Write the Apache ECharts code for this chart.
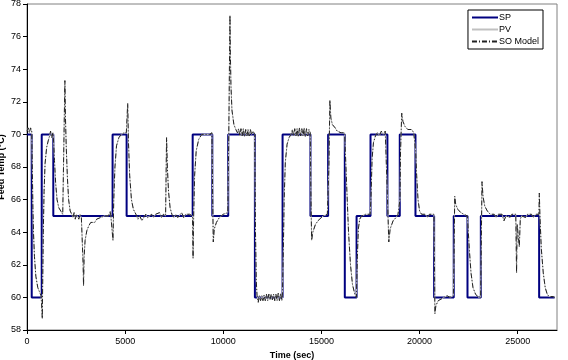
<!DOCTYPE html>
<html>
<head>
<meta charset="UTF-8">
<title>Feed Temp</title>
<script src="https://cdn.jsdelivr.net/npm/echarts@6/dist/echarts.min.js"></script>
<style>
  html, body { margin: 0; padding: 0; background: #fff; }
  #chart { width: 568px; height: 360px; }
</style>
</head>
<body>
<div id="chart"></div>
<script>
// set point steps (time in sec, level in degC)
var spTime = [0, 240, 750, 1340, 4360, 5075, 8440, 9440, 10250, 11610, 13020, 14440, 15340,
  16190, 16790, 17500, 18360, 18990, 19790, 20740, 21740, 22440, 23120, 26090, 26880];
var spValue = [70, 60, 70, 65, 70, 65, 70, 65, 70, 60, 70, 65, 70,
  60, 65, 70, 65, 70, 65, 60, 65, 60, 65, 60, 60];

// measured response [time, temp]
var pv = [
  [0,70.2],[60,70.4],[120,70.1],[180,70.4],[240,70.2],
  [270,68],[300,65.5],[330,64],[380,62.5],[450,61.3],[550,60.6],[650,60.3],[720,60.1],[750,60.0],
  [780,58.7],[800,61],[830,64],[870,66.5],[920,68.2],[1000,69.2],[1080,69.6],[1150,69.9],[1200,70.2],[1260,69.8],[1320,70.1],
  [1360,69.5],[1400,68.4],[1460,67],[1530,66],[1620,65.5],[1720,65.3],[1820,65.1],[1900,65.2],
  [1930,73.3],[1960,71],[2000,69.2],[2060,67.3],[2120,66],[2200,65.3],[2280,65.1],[2340,64.9],[2400,65.2],[2460,64.8],[2520,65.1],[2580,65],[2640,64.8],[2700,65.1],[2770,64.9],[2830,65],
  [2860,62],[2880,60.7],[2910,62.5],[2960,63.5],[3050,64.1],[3150,64.4],[3250,64.6],[3350,64.7],[3450,64.6],[3550,64.8],[3650,64.7],[3750,64.9],[3850,64.9],[3950,65],[4050,65.1],[4150,65],[4250,65.3],[4330,65.2],
  [4380,63.5],[4420,66],[4480,68],[4560,69.3],[4680,69.8],[4800,70],[4950,70.1],[5060,70.1],
  [5130,71.9],[5170,69.5],[5230,67.5],[5320,66],[5420,65.4],[5550,65.1],[5650,64.8],[5750,65],[5850,64.7],[5950,64.9],[6050,65.1],[6150,64.9],[6250,65],[6350,65.1],[6450,64.9],[6550,65.1],[6650,65],[6750,65.2],[6850,64.9],[6950,65.1],[7060,65],
  [7110,69.8],[7150,68],[7210,66.5],[7290,65.5],[7380,65.1],[7480,64.9],[7580,65.1],[7680,64.9],[7780,65],[7880,65.2],[7980,64.9],[8080,65.1],[8180,65],[8280,65.1],[8380,65],[8430,65],
  [8460,62.4],[8490,65],[8540,67.5],[8620,69],[8750,69.7],[8900,70],[9000,70.1],[9100,70],[9200,70.1],[9300,70],[9420,70.1],
  [9460,66],[9490,63.4],[9540,64.2],[9650,64.6],[9800,64.9],[9900,65],[10000,65.1],[10100,65.2],[10230,65.2],
  [10280,70],[10320,75],[10340,77.3],[10360,75],[10390,73],[10440,71.5],[10540,70.6],[10640,70.3],[10720,70.1],[10780,70.35],[10840,69.9],[10900,70.35],[10960,69.9],[11020,70.35],[11080,69.85],[11140,70.3],[11200,69.9],[11260,70.3],[11320,69.9],[11380,70.3],[11440,70],[11520,70.2],[11600,70],
  [11640,64],[11680,61],[11720,60.1],[11780,59.7],[11840,60.1],[11900,59.8],[11960,60.1],[12020,59.8],[12080,60.15],[12140,59.8],[12200,60.2],[12260,59.8],[12320,60.2],[12380,59.85],[12440,60.2],[12500,59.85],[12560,60.2],[12620,59.8],[12680,60.2],[12740,59.8],[12800,60.25],[12860,59.8],[12920,60.25],[12980,59.8],[13010,60.1],
  [13030,60],[13060,63],[13100,66],[13160,68.3],[13250,69.4],[13350,69.8],[13450,70],[13520,70.3],[13580,69.9],[13640,70.35],[13700,69.9],[13760,70.35],[13820,69.85],[13880,70.4],[13940,69.9],[14000,70.35],[14060,69.9],[14120,70.4],[14180,69.85],[14240,70.35],[14300,69.9],[14360,70.3],[14430,70.1],
  [14460,66.5],[14500,63.5],[14560,64],[14700,64.5],[14900,64.8],[15100,65],[15300,65.1],
  [15350,65],[15380,68],[15430,72.1],[15480,71],[15560,70.6],[15700,70.4],[15800,70.2],[15900,70.3],[16000,70.1],[16100,70.2],[16180,70.1],
  [16200,69.5],[16280,67],[16380,64],[16480,62],[16580,60.8],[16700,60.2],[16780,60],
  [16800,60],[16830,62.5],[16880,64.2],[16950,64.8],[17050,65],[17150,64.9],[17250,65.1],[17350,65],[17480,65.1],
  [17520,66],[17580,68.5],[17650,69.5],[17750,69.9],[17850,70.1],[17950,69.9],[18050,70.2],[18150,70],[18250,70.2],[18340,70.1],
  [18380,65.5],[18430,63.4],[18500,64.2],[18650,64.7],[18800,64.9],[18900,65.1],[18980,65.2],
  [19000,66],[19030,69],[19090,71.3],[19150,70.8],[19250,70.5],[19400,70.3],[19500,70.2],[19600,70.3],[19700,70.1],[19780,70.2],
  [19800,69],[19850,67.5],[19920,66],[20000,65.3],[20100,65.1],[20200,65],[20300,65.1],[20400,64.9],[20500,65.1],[20600,65],[20730,65.1],
  [20760,62],[20780,59],[20830,59.5],[20950,59.8],[21100,59.9],[21250,60],[21400,60.1],[21550,60],[21720,60.1],
  [21750,62],[21790,66.2],[21840,65.7],[21950,65.4],[22100,65.2],[22250,65.1],[22430,65],
  [22460,64.5],[22530,63],[22620,61.5],[22720,60.6],[22850,60.2],[23000,60],[23110,60],
  [23130,62],[23180,67.1],[23230,66.2],[23320,65.6],[23450,65.3],[23600,65.1],[23700,65],[23800,65.1],[23900,64.9],[24000,65.1],[24100,65],[24200,65.1],[24300,64.7],[24400,65],[24500,65.1],[24600,64.9],[24700,65.1],[24800,65],[24900,65.1],
  [24940,61.5],[24970,64.5],[25020,64.6],[25080,63.1],[25130,64.8],[25200,65],[25300,65.1],[25400,64.9],[25500,65.1],[25600,65],[25700,65.1],[25800,64.9],[25900,65.1],[26000,65],[26080,65.1],
  [26100,66.4],[26130,65],[26200,63],[26300,61.5],[26400,60.6],[26500,60.2],[26600,60.05],[26700,59.95],[26800,60.05],[26880,60]
];

// model output follows the measured curve closely
var model = pv;

var yTicks = [58, 78, 2];
var xTicks = [0, 27000, 5000];

var sp = [];
for (var i = 0; i < spTime.length; i++) {
  sp.push([spTime[i], spValue[i]]);
}

var myChart = echarts.init(document.getElementById('chart'));
var font = 'Arial, "Liberation Sans", sans-serif';

myChart.setOption({
  animation: false,
  grid: {
    left: 27, right: 11, top: 4, bottom: 30,
    outerBoundsMode: 'none', containLabel: false,
    show: true, borderColor: '#808080', borderWidth: 1
  },
  legend: {
    orient: 'vertical',
    right: 25, top: 10,
    backgroundColor: '#fff',
    borderColor: '#000', borderWidth: 1,
    padding: [3, 4, 3, 3],
    itemWidth: 26, itemHeight: 10, itemGap: 3,
    itemStyle: { opacity: 0 },
    textStyle: { fontFamily: font, fontSize: 9, color: '#000', padding: [0, 0, 0, -4] },
    data: ['SP', 'PV', 'SO Model']
  },
  xAxis: {
    type: 'value',
    min: xTicks[0], max: xTicks[1], interval: xTicks[2],
    name: 'Time (sec)',
    nameLocation: 'middle', nameGap: 20,
    nameTextStyle: { fontFamily: font, fontSize: 9, fontWeight: 'bold', color: '#000' },
    axisLine: { lineStyle: { color: '#000' } },
    axisTick: { length: 4, lineStyle: { color: '#000' } },
    axisLabel: {
      fontFamily: font, fontSize: 9, color: '#000', margin: 7,
      showMaxLabel: false,
      formatter: function (v) { return String(v); }
    },
    splitLine: { show: false }
  },
  yAxis: {
    type: 'value',
    min: yTicks[0], max: yTicks[1], interval: yTicks[2],
    name: 'Feed Temp (°C)',
    nameLocation: 'middle', nameGap: 21, nameMoveOverlap: false,
    nameTextStyle: { fontFamily: font, fontSize: 9, fontWeight: 'bold', color: '#000' },
    axisLine: { show: true, lineStyle: { color: '#000' } },
    axisTick: { show: true, length: 4, lineStyle: { color: '#000' } },
    axisLabel: { fontFamily: font, fontSize: 9, color: '#000', margin: 6 },
    splitLine: { show: false }
  },
  series: [
    {
      name: 'SP', type: 'line', step: 'end',
      data: sp, symbol: 'none',
      lineStyle: { color: '#000080', width: 2 },
      itemStyle: { color: '#000080' }
    },
    {
      name: 'PV', type: 'line',
      data: pv, symbol: 'none',
      lineStyle: { color: '#c0c0c0', width: 1 },
      itemStyle: { color: '#c0c0c0' }
    },
    {
      name: 'SO Model', type: 'line',
      data: model, symbol: 'none',
      lineStyle: { color: '#222', width: 1, type: [5, 2, 1, 2] },
      itemStyle: { color: '#222' }
    }
  ]
});
</script>
</body>
</html>
